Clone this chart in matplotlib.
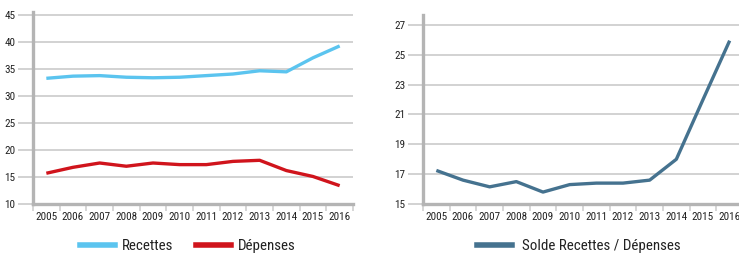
import matplotlib
matplotlib.use("Agg")
import matplotlib.pyplot as plt
from matplotlib.lines import Line2D
import numpy as np

plt.rcParams['font.family'] = ['Roboto Condensed', 'DejaVu Sans']

years = ["2005", "2006", "2007", "2008", "2009", "2010", "2011", "2012", "2013", "2014", "2015", "2016"]
recettes = [33.3, 33.7, 33.8, 33.5, 33.4, 33.5, 33.8, 34.1, 34.7, 34.5, 37.1, 39.3]
depenses = [15.7, 16.8, 17.6, 17.0, 17.6, 17.3, 17.3, 17.9, 18.1, 16.2, 15.1, 13.4]
solde = [17.25, 16.6, 16.15, 16.5, 15.8, 16.3, 16.4, 16.4, 16.6, 18.0, 22.0, 25.95]

left_ticks = [10, 15, 20, 25, 30, 35, 40, 45]
right_ticks = [15, 17, 19, 21, 23, 25, 27]

c_rec = "#5bc4ef"
c_dep = "#d0141c"
c_sol = "#45728f"
grid_c = "#cfcfcf"
spine_c = "#b4b4b4"
text_c = "#222222"

W, H = 739, 256
fig = plt.figure(figsize=(W / 100, H / 100), dpi=100)

def style(ax, ylim, yticks):
    n = len(years)
    x = np.arange(n)
    ax.set_xlim(-0.5, n - 0.5)
    ax.set_ylim(*ylim)
    ax.set_yticks(yticks)
    ax.set_xticks(x)
    ax.set_xticklabels(years)
    ax.set_xticks(np.arange(n + 1) - 0.5, minor=True)
    ax.tick_params(axis='x', which='major', length=0, pad=6, labelsize=8, labelcolor=text_c)
    ax.tick_params(axis='x', which='minor', length=5, width=1.2, color=grid_c, direction='out')
    ax.tick_params(axis='y', which='major', length=11, width=1.3, color=grid_c, labelsize=8, labelcolor=text_c, pad=1.5)
    for y in yticks:
        ax.axhline(y, color=grid_c, lw=1.3, zorder=0)
    for s in ['top', 'right']:
        ax.spines[s].set_visible(False)
    for s in ['left', 'bottom']:
        ax.spines[s].set_color(spine_c)
        ax.spines[s].set_linewidth(2.4)
    ax.patch.set_alpha(0)
    return x

# left chart
ax1 = fig.add_axes([33 / W, 1 - 204 / H, 320 / W, (204 - 12.5) / H])
x = style(ax1, (10, 45.5), left_ticks)
ax1.plot(x, recettes, color=c_rec, lw=2.4, solid_capstyle='butt')
ax1.plot(x, depenses, color=c_dep, lw=2.4, solid_capstyle='butt')

# right chart
ax2 = fig.add_axes([423 / W, 1 - 204 / H, 320 / W, (204 - 15) / H])
x = style(ax2, (15, 27.67), right_ticks)
ax2.plot(x, solde, color=c_sol, lw=2.4, solid_capstyle='butt')

# legends
h1 = [Line2D([], [], color=c_rec, lw=4), Line2D([], [], color=c_dep, lw=4)]
fig.legend(h1, ["Recettes", "Dépenses"], loc='center', bbox_to_anchor=(188 / W, 1 - 246 / H),
           ncol=2, frameon=False, fontsize=10.8, handlelength=2.3, handletextpad=0.5,
           columnspacing=1.5, labelcolor=text_c)
h2 = [Line2D([], [], color=c_sol, lw=4)]
fig.legend(h2, ["Solde Recettes / Dépenses"], loc='center', bbox_to_anchor=(579 / W, 1 - 246 / H),
           ncol=1, frameon=False, fontsize=10.8, handlelength=2.3, handletextpad=0.7,
           labelcolor=text_c)

fig.savefig("out.png", dpi=100)
